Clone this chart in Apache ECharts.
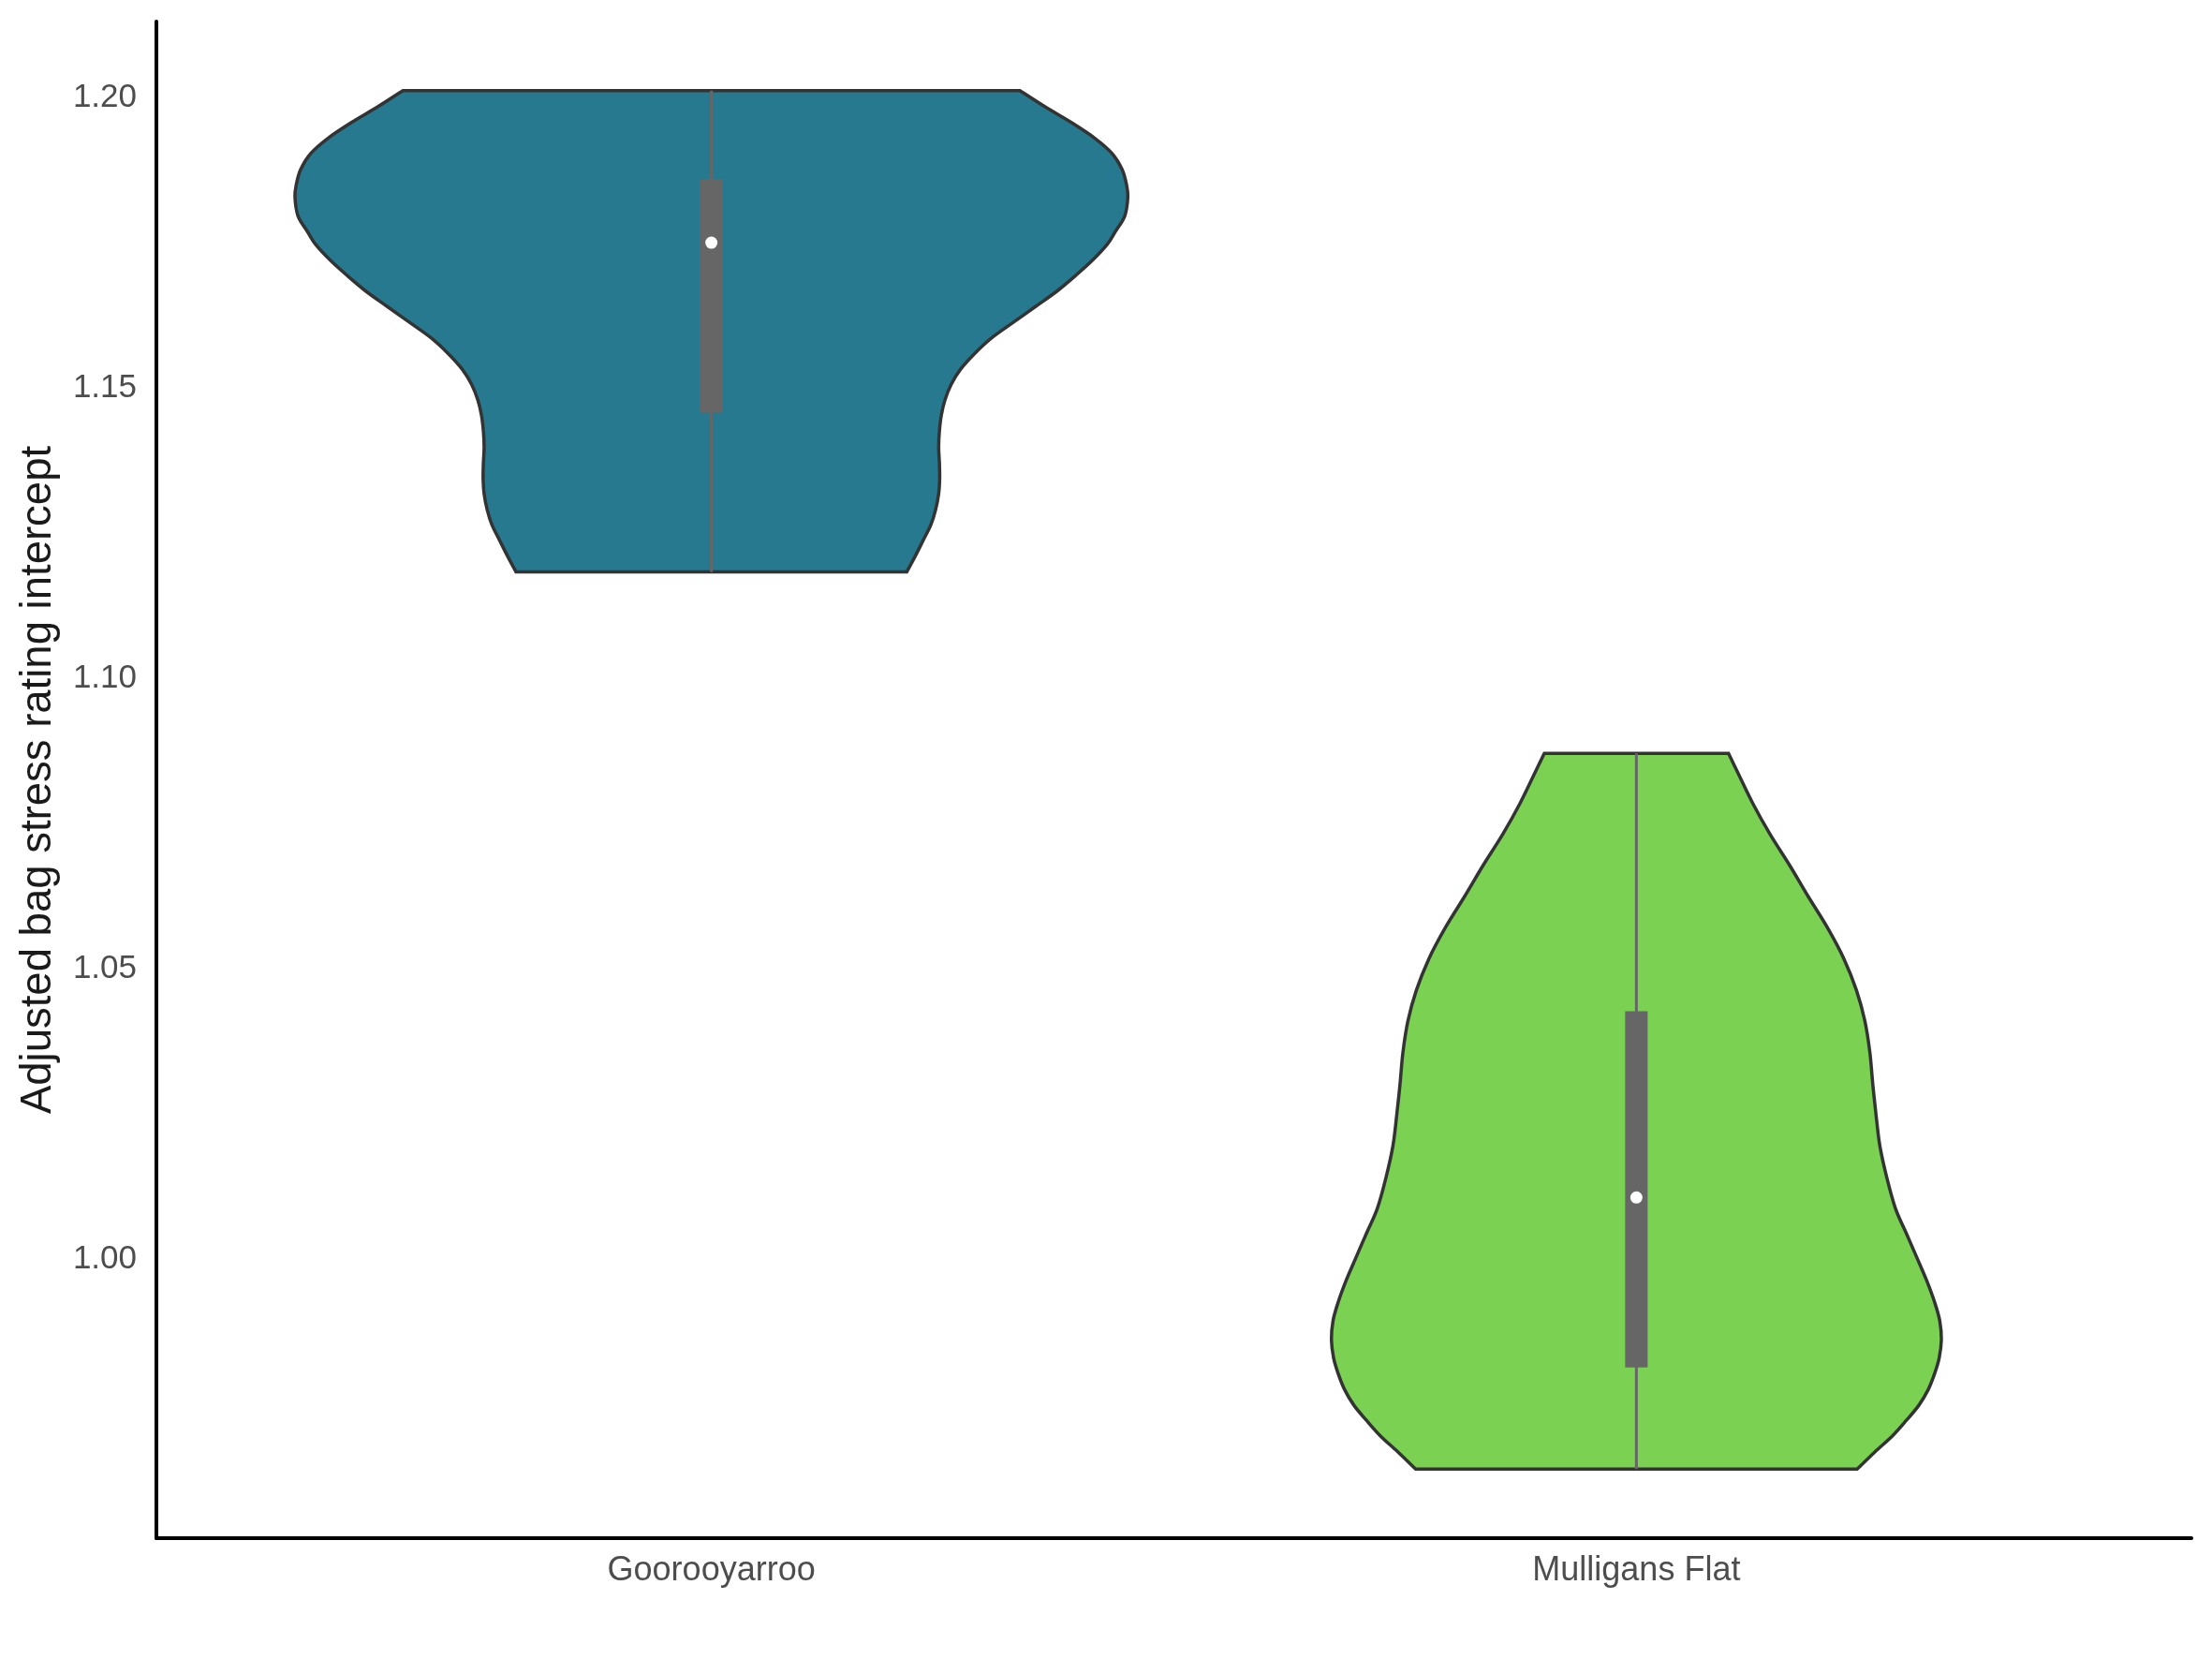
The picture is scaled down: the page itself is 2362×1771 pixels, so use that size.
<!DOCTYPE html>
<html>
<head>
<meta charset="utf-8">
<script src="https://cdn.jsdelivr.net/npm/echarts@6/dist/echarts.min.js"></script>
<style>
html,body{margin:0;padding:0;background:#fff;}
#chart{width:2362px;height:1771px;}
</style>
</head>
<body>
<div id="chart"></div>
<script>
// ---- data ----
const categories = ['Goorooyarroo', 'Mulligans Flat'];
const yTicks = [1.00, 1.05, 1.10, 1.15, 1.20];
const colors = ['#26798e', '#7bd151'];

// violin outline: sampled y values (top -> bottom) and half widths (x units)
const gooY = [1.2013, 1.1985, 1.1958, 1.1931, 1.1905, 1.1877, 1.1850, 1.1829, 1.1797, 1.1770,
  1.1748, 1.1722, 1.1695, 1.1668, 1.1641, 1.1614, 1.1587, 1.1560, 1.1533, 1.1507, 1.1480,
  1.1453, 1.1426, 1.1399, 1.1372, 1.1345, 1.1318, 1.1291, 1.1265, 1.1238, 1.1211, 1.1184];
const gooHalf = [0.3335, 0.3608, 0.3892, 0.4145, 0.4330, 0.4441, 0.4489, 0.4502, 0.4469, 0.4367,
  0.4279, 0.4128, 0.3942, 0.3740, 0.3504, 0.3267, 0.3031, 0.2846, 0.2694, 0.2593, 0.2525,
  0.2485, 0.2465, 0.2457, 0.2465, 0.2468, 0.2457, 0.2424, 0.2373, 0.2289, 0.2204, 0.2113];
const mulY = [1.0871, 1.0840, 1.0786, 1.0732, 1.0679, 1.0625, 1.0571, 1.0517, 1.0463, 1.0410,
  1.0356, 1.0302, 1.0248, 1.0195, 1.0141, 1.0087, 1.0044, 1.0001, 0.9963, 0.9926, 0.9894,
  0.9861, 0.9829, 0.9802, 0.9775, 0.9748, 0.9722, 0.9695, 0.9668, 0.9638];
const mulHalf = [0.0996, 0.1090, 0.1255, 0.1444, 0.1654, 0.1856, 0.2065, 0.2244, 0.2379, 0.2470,
  0.2524, 0.2555, 0.2591, 0.2632, 0.2706, 0.2801, 0.2919, 0.3036, 0.3138, 0.3223, 0.3279,
  0.3297, 0.3273, 0.3223, 0.3155, 0.3054, 0.2919, 0.2767, 0.2581, 0.2386];

// inner box stats: [min, q1, median, q3, max]
const gooStats = [1.1184, 1.1458, 1.1751, 1.1861, 1.2013];
const mulStats = [0.9638, 0.9813, 1.0106, 1.0427, 1.0871];

const violinY = [gooY, mulY];
const violinHalf = [gooHalf, mulHalf];
const boxStats = [gooStats, mulStats];

// ---- drawing ----
const chart = echarts.init(document.getElementById('chart'), null, {renderer: 'canvas'});

function catmull(pts) {
  let d = '';
  for (let i = 0; i < pts.length - 1; i++) {
    const p0 = pts[i - 1] || pts[i];
    const p1 = pts[i];
    const p2 = pts[i + 1];
    const p3 = pts[i + 2] || pts[i + 1];
    const c1x = p1[0] + (p2[0] - p0[0]) / 6, c1y = p1[1] + (p2[1] - p0[1]) / 6;
    const c2x = p2[0] - (p3[0] - p1[0]) / 6, c2y = p2[1] - (p3[1] - p1[1]) / 6;
    d += ` C${c1x},${c1y} ${c2x},${c2y} ${p2[0]},${p2[1]}`;
  }
  return d;
}

function renderViolin(params, api) {
  const idx = api.value(0);
  const ys = violinY[idx], ws = violinHalf[idx];
  const right = ys.map((y, i) => api.coord([idx + ws[i], y]));
  const left = ys.map((y, i) => api.coord([idx - ws[i], y])).reverse();
  let d = `M${left[left.length - 1][0]},${left[left.length - 1][1]}`;
  d += ` L${right[0][0]},${right[0][1]}`;
  d += catmull(right);
  d += ` L${left[0][0]},${left[0][1]}`;
  d += catmull(left);
  d += ' Z';
  return {
    type: 'path',
    shape: {pathData: d},
    style: {fill: colors[idx], stroke: '#333333', lineWidth: 3.5, lineJoin: 'miter'}
  };
}

function renderBox(params, api) {
  const idx = api.value(0);
  const s = boxStats[idx];
  const pMin = api.coord([idx, s[0]]);
  const pQ1 = api.coord([idx, s[1]]);
  const pMed = api.coord([idx, s[2]]);
  const pQ3 = api.coord([idx, s[3]]);
  const pMax = api.coord([idx, s[4]]);
  const bw = 24;
  return {
    type: 'group',
    children: [
      {type: 'line', shape: {x1: pMin[0], y1: pMin[1], x2: pMax[0], y2: pMax[1]},
       style: {stroke: '#666666', lineWidth: 3}},
      {type: 'rect', shape: {x: pQ3[0] - bw / 2, y: pQ3[1], width: bw, height: pQ1[1] - pQ3[1]},
       style: {fill: '#666666'}},
      {type: 'circle', shape: {cx: pMed[0], cy: pMed[1], r: 6.5},
       style: {fill: '#ffffff'}}
    ]
  };
}

const fontFamily = '"Liberation Sans", Arial, Helvetica, sans-serif';

const option = {
  backgroundColor: '#ffffff',
  animation: false,
  grid: {left: 167, right: 22, top: 23, bottom: 129, containLabel: false},
  xAxis: {
    type: 'value',
    min: -0.6,
    max: 1.6,
    axisLine: {show: true, onZero: false, lineStyle: {color: '#000000', width: 4}},
    axisTick: {show: false},
    splitLine: {show: false},
    axisLabel: {
      customValues: categories.map((c, i) => i),
      formatter: v => categories[Math.round(v)] || '',
      fontFamily: fontFamily,
      fontSize: 36,
      color: '#4d4d4d',
      margin: 17
    }
  },
  yAxis: {
    type: 'value',
    min: 0.9519,
    max: 1.2132,
    name: 'Adjusted bag stress rating intercept',
    nameLocation: 'middle',
    nameGap: 103,
    nameTextStyle: {fontFamily: fontFamily, fontSize: 45.5, color: '#1a1a1a'},
    axisLine: {show: true, onZero: false, lineStyle: {color: '#000000', width: 4}},
    axisTick: {show: false},
    splitLine: {show: false},
    axisLabel: {
      customValues: yTicks,
      formatter: v => v.toFixed(2),
      fontFamily: fontFamily,
      fontSize: 35,
      color: '#4d4d4d',
      margin: 21
    }
  },
  series: [
    {
      type: 'custom',
      renderItem: renderViolin,
      data: categories.map((c, i) => [i]),
      encode: {x: 0},
      clip: false,
      z: 2
    },
    {
      type: 'custom',
      renderItem: renderBox,
      data: categories.map((c, i) => [i]),
      encode: {x: 0},
      clip: false,
      z: 3
    }
  ]
};
chart.setOption(option);
</script>
</body>
</html>
